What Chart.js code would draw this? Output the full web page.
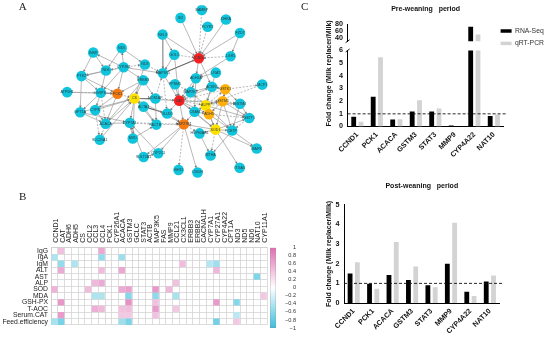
<!DOCTYPE html>
<html><head><meta charset="utf-8">
<script src="https://cdn.jsdelivr.net/npm/chart.js@4"></script>
<style>html,body{margin:0;padding:0;background:#fff;width:550px;height:338px;overflow:hidden}canvas{position:absolute}</style>
</head><body>
<script>
// ---------- Data: panel A network ----------
const nodeNames=["BAMBP","ID2","FCYR2","DHKA","FZD7","KEL3","GOL1","CCND1","LGR5","MAP3K5","LRAT","ADH1A","PPSM1","MAP2K7","ACKR1","GSTK1","MCP1","INSR","ND5","CYP2E1","ND3","ND6","PTS2","ERBB3","ATP5H1","GRPS","PCK1","CS","NOS1AP","CAT","ACTA1","GPT1A","CTPS","GLUD1","ACACA","CYP7A1","ACTB","MVD","SLC25A1","CSAM","ALPP","GSTM1","GSTM4","ADH5","GSTT1","HSP90AB1","SOD1","CETP","HSP27B1","MAPK","ITGA5","MTHA","CYP2C1","SULT2A1","GES1","UGDH"];
const nodeX=[601,536,619,675,718,481,517,592,689,482,644,583,519,567,632,673,786,269,356,362,427,308,233,422,189,292,343,395,459,532,423,229,275,495,307,381,462,390,289,579,613,665,718,623,746,594,643,694,546,769,717,628,468,423,530,588];
const nodeY=[15,40,68,45,88,93,157,168,162,216,214,232,251,276,259,267,252,150,136,197,188,207,225,238,276,278,281,296,296,303,322,340,333,344,376,373,379,423,427,338,318,305,313,346,358,407,395,398,378,455,516,477,470,482,523,531];
const nodeRank=[0,0,0,0,0,0,0,4,0,0,0,0,0,0,0,2,0,0,0,0,0,0,0,0,0,0,3,1,0,4,0,0,0,0,0,0,0,0,0,0,1,2,0,2,0,0,1,0,3,0,0,0,0,0,0,0];
const solidEdges=["KEL3>CCND1","ID2>CCND1","DHKA>CCND1","FZD7>CCND1","KEL3>GOL1","KEL3>MAP3K5","GOL1>MAP3K5","FZD7>LGR5","LGR5>ADH1A","CCND1>ADH1A","CCND1>ACKR1","LRAT>ADH1A","LRAT>ALPP","GOL1>CAT","INSR>PTS2","INSR>ND6","ND5>ND6","ND5>ND3","CYP2E1>ND5","CYP2E1>INSR","ND6>PTS2","CYP2E1>PTS2","CYP2E1>GRPS","ND6>GRPS","CYP2E1>PCK1","CYP2E1>ERBB3","ND3>CS","CYP2E1>MAP3K5","PTS2>GRPS","PTS2>GPT1A","PTS2>PCK1","ATP5H1>PCK1","GRPS>GPT1A","GRPS>CTPS","PCK1>CTPS","PCK1>ACACA","ERBB3>CS","ERBB3>PCK1","ERBB3>ACACA","GPT1A>CS","GPT1A>ACACA","GPT1A>CYP7A1","CTPS>CS","CTPS>ACACA","ACACA>CS","ACACA>CYP7A1","SLC25A1>CS","CS>CYP7A1","CS>CAT","CS>ACTA1","CS>MVD","CS>ACTB","CS>HSP27B1","MVD>CYP7A1","MVD>ACTB","SULT2A1>CYP7A1","SULT2A1>CYP2C1","CYP2C1>CYP7A1","ACTA1>ACTB","NOS1AP>ACTB","ERBB3>NOS1AP","MAP3K5>CAT","PPSM1>CAT","ADH1A>CAT","ADH1A>MAP2K7","ADH1A>CSAM","MAP2K7>CAT","CAT>HSP27B1","CAT>CSAM","CAT>ADH5","CAT>GSTM4","CAT>GLUD1","CAT>SOD1","GLUD1>HSP27B1","CSAM>ALPP","CSAM>HSP27B1","CSAM>SOD1","CSAM>ADH5","ALPP>GSTM1","ALPP>ADH5","ALPP>SOD1","ALPP>CETP","ALPP>GSTT1","GSTM1>GSTK1","GSTM1>ADH5","GSTM1>GSTT1","GSTM1>SOD1","GSTM1>CETP","GSTK1>ACKR1","GSTK1>GSTM4","ACKR1>ALPP","ACKR1>MAP2K7","ADH5>SOD1","ADH5>CETP","GSTM4>GSTT1","GSTM4>CETP","SOD1>CETP","SOD1>HSP27B1","SOD1>ITGA5","SOD1>HSP90AB1","SOD1>GSTT1","CETP>MAPK","HSP90AB1>MTHA","CETP>MTHA","SOD1>MAPK","HSP27B1>UGDH","HSP27B1>CYP2C1","HSP27B1>SULT2A1","ALPP>MAP2K7","CAT>ACKR1"];
const dashedEdges=["BAMBP>CCND1","FCYR2>CCND1","GOL1>CCND1","LGR5>CCND1","CYP2E1>ND3","CYP2E1>ND6","ND3>MAP3K5","ATP5H1>GRPS","GRPS>ACACA","PCK1>CS","ACACA>SLC25A1","CTPS>SLC25A1","CYP7A1>ACTB","CYP7A1>HSP27B1","ACTB>HSP27B1","NOS1AP>CAT","NOS1AP>MAP3K5","MAP3K5>GLUD1","PPSM1>MAP2K7","CAT>ALPP","CAT>GSTM1","ALPP>GSTK1","ALPP>GSTM4","GSTM1>GSTM4","GSTK1>MCP1","GSTK1>CAT","MCP1>ALPP","ADH5>GSTT1","GSTT1>CETP","SOD1>MTHA","HSP27B1>GES1","HSP27B1>HSP90AB1"];
const heavyEdges=["MAP3K5>CCND1","GRPS>PCK1","CS>NOS1AP","ACTA1>GLUD1"];
const networkLetter="A", heatLetter="B", barLetter="C";

// ---------- Data: panel B heatmap ----------
const heatCols=["CCND1","CAT","ADH6","ADH5","CS","CCL2","CCL3","CCL4","PCK1","CYP26A1","ACACA","GSTM3","GCLC","STAT3","ACTB","MAP3K5","FAS","MMP9","CCL21","CX3CL1","ERBB3","ERBB2","CACNA1H","CYP7A1","CYP27A1","CYP4A22","CPT1A","ND3","ND5","ND6","NAT10","CYP11A1"];
const heatRows=["IgG","IgA","IgM","ALT","AST","ALP","SOD","MDA","GSH-PX","T-AOC","Serum.CAT","Feed.efficiency"];
const heatCells=[["IgG","CAT",.42],["IgG","CCL4",.6],
["IgA","CCND1",-.42],["IgA","CCL4",-.55],["IgA","ACACA",-.5],
["IgM","CAT",-.55],["IgM","ADH5",-.42],["IgM","CX3CL1",.45],["IgM","CYP7A1",-.38],["IgM","CYP27A1",-.5],
["ALT","CAT",.58],["ALT","CCL4",.45],["ALT","ACACA",.6],["ALT","CYP27A1",.5],
["AST","NAT10",-.65],
["ALP","CCL3",.48],["ALP","CCL4",.58],["ALP","CCL21",.42],
["SOD","CCND1",.52],["SOD","CCL2",.45],["SOD","ACACA",.58],["SOD","GSTM3",.65],["SOD","MAP3K5",.72],["SOD","MMP9",.48],
["MDA","CCL3",-.42],["MDA","CCL4",-.42],["MDA","GSTM3",-.62],["MDA","MAP3K5",-.58],["MDA","CCL21",-.45],["MDA","CYP11A1",.38],
["GSH-PX","CAT",.72],["GSH-PX","GSTM3",.75],["GSH-PX","MAP3K5",.42],["GSH-PX","CYP27A1",.68],["GSH-PX","ND3",-.62],
["T-AOC","CCL3",.55],["T-AOC","CCL4",.48],["T-AOC","ACACA",.42],["T-AOC","GSTM3",.45],["T-AOC","MAP3K5",.68],["T-AOC","CCL21",.38],
["Serum.CAT","CAT",.68],["Serum.CAT","ACACA",.38],["Serum.CAT","GSTM3",.38],["Serum.CAT","MAP3K5",.42],["Serum.CAT","ND3",-.35],
["Feed.efficiency","CCND1",-.45],["Feed.efficiency","CAT",-.7],["Feed.efficiency","ACACA",-.5],["Feed.efficiency","GSTM3",-.68],["Feed.efficiency","CYP27A1",-.72],["Feed.efficiency","ND3",.38]];
const colorTicks=[1,.8,.6,.4,.2,0,-.2,-.4,-.6,-.8,-1];

// ---------- Data: panel C bars ----------
const preCategories=["CCND1","PCK1","ACACA","GSTM3","STAT3","MMP9","CYP4A22","NAT10"];
const preRna=[.76,2.34,.55,1.18,1.18,.08,72,.82];
const preQpcr=[.37,5.47,.58,2.08,1.42,0,49.5,.95];
const preLowTicks=[0,1,2,3,4,5,6];
const preHighTicks=[40,60,80];
const postCategories=["CCND1","PCK1","ACACA","GSTM3","STAT3","MMP9","CYP4A22","NAT10"];
const postRna=[1.5,.98,1.43,1.17,.91,2.0,.57,1.1];
const postQpcr=[2.08,.73,3.11,1.86,.8,4.09,.36,1.4];
const postTicks=[0,1,2,3,4,5];
const seriesNames=["RNA-Seq","qRT-PCR"];
const preTitle="Pre-weaning   period", postTitle="Post-weaning   period";
const yTitle="Fold change (Milk replacer/Milk)";
const referenceLine=1;

// ---------- Rendering ----------
const SANS="'Liberation Sans',Arial,sans-serif";
Chart.defaults.font.family=SANS;
Chart.defaults.animation=false;
Chart.defaults.responsive=false;
Chart.defaults.devicePixelRatio=1;
Chart.defaults.plugins.legend.display=false;
Chart.defaults.plugins.tooltip.enabled=false;
Chart.defaults.events=[];

function make(left,top,w,h,config){
  const c=document.createElement('canvas');
  c.width=w;c.height=h;c.style.left=left+'px';c.style.top=top+'px';
  c.style.width=w+'px';c.style.height=h+'px';
  document.body.appendChild(c);
  return new Chart(c,config);
}
const letterPlugin=(text,x,y)=>({id:'letter'+text,afterDraw(ch){const g=ch.ctx;g.save();g.font="11px 'Liberation Serif',serif";g.fillStyle='#222';g.textAlign='center';g.textBaseline='middle';g.fillText(text,x,y);g.restore();}});

// Panel A
const rankColors=['#10C4DC','#FFE100','#FFAE0A','#F57A10','#F52020'];
const idx=Object.fromEntries(nodeNames.map((n,i)=>[n,i]));
function edgePoints(list){const out=[];list.forEach(e=>{const [a,b]=e.split('>');out.push({x:nodeX[idx[a]],y:nodeY[idx[a]]},{x:nodeX[idx[b]],y:nodeY[idx[b]]},{x:NaN,y:NaN});});return out;}
const allEdges=solidEdges.concat(dashedEdges,heavyEdges);
const arrowPts=[],arrowRot=[];
allEdges.forEach(e=>{const [a,b]=e.split('>');const ax=nodeX[idx[a]],ay=nodeY[idx[a]],bx=nodeX[idx[b]],by=nodeY[idx[b]];const dx=bx-ax,dy=by-ay,l=Math.hypot(dx,dy);arrowPts.push({x:bx-dx/l*19,y:by-dy/l*19});arrowRot.push(Math.atan2(dx,-dy)*180/Math.PI);});
const edgeDs=(data,color,width,dash,order)=>({type:'scatter',data,showLine:true,spanGaps:false,borderColor:color,borderWidth:width,borderDash:dash,pointRadius:0,order});
make(0,0,320,190,{type:'scatter',
  data:{datasets:[
    {data:nodeNames.map((n,i)=>({x:nodeX[i],y:nodeY[i]})),pointRadius:5.3,pointBorderWidth:0,pointBackgroundColor:nodeRank.map(r=>rankColors[r]),order:0},
    {data:arrowPts,pointStyle:'triangle',pointRadius:1.5,pointBorderWidth:0,pointBackgroundColor:'#777',pointRotation:arrowRot,order:1},
    edgeDs(edgePoints(solidEdges),'#9a9a9a',.7,[],2),
    edgeDs(edgePoints(dashedEdges),'#9a9a9a',.7,[2,1.5],3),
    edgeDs(edgePoints(heavyEdges),'#666',1.1,[],4)
  ]},
  options:{layout:{padding:{right:45}},scales:{
    x:{type:'linear',display:false,min:0,max:825},
    y:{type:'linear',display:false,min:0,max:570,reverse:true}}},
  plugins:[letterPlugin(networkLetter,22.7,7.5),letterPlugin(barLetter,304.7,7.5),{id:'nodeText',afterDatasetsDraw(ch){const g=ch.ctx;g.save();g.font="3.6px "+SANS;g.fillStyle='#2a3a40';g.textAlign='center';g.textBaseline='middle';
    nodeNames.forEach((n,i)=>g.fillText(n,ch.scales.x.getPixelForValue(nodeX[i]),ch.scales.y.getPixelForValue(nodeY[i])));g.restore();}}]
});

// Panel B
function heatColor(v){const t=Math.min(1,Math.abs(v));const c=v>=0?[222,110,178]:[60,190,220];return `rgb(${c.map(k=>Math.round(255+(k-255)*t)).join(',')})`;}
make(0,185,276,147,{type:'scatter',
  data:{datasets:[{data:heatCells.map(c=>({x:c[1],y:c[0]})),pointStyle:'rect',pointRadius:4.5,pointBorderWidth:0,pointBackgroundColor:heatCells.map(c=>heatColor(c[2]))}]},
  options:{layout:{padding:{left:0,right:9,top:0,bottom:3.7}},scales:{
    x:{type:'category',labels:heatCols,position:'top',offset:true,afterFit(s){s.height=62.7;},
       grid:{offset:true,color:'#d4d4d4',lineWidth:.8,drawTicks:false},border:{color:'#cfcfcf',width:.8},
       ticks:{autoSkip:false,minRotation:90,maxRotation:90,padding:5,labelOffset:10,color:'#222',font:{size:7}}},
    y:{type:'category',labels:heatRows,offset:true,afterFit(s){s.width=51;},
       grid:{offset:true,color:'#d4d4d4',lineWidth:.8,drawTicks:false},border:{color:'#cfcfcf',width:.8},
       ticks:{autoSkip:false,padding:3,color:'#222',font:{size:6.8}}}
  }},
  plugins:[letterPlugin(heatLetter,22.7,11.7)]
});

// Colour bar
make(268,240,28,96,{type:'bar',
  data:{labels:['r'],datasets:[{data:[[-1,1]],barPercentage:1,categoryPercentage:1,borderWidth:.6,borderColor:'#888',borderSkipped:false,
    backgroundColor(ctx){const a=ctx.chart.chartArea;if(!a)return '#fff';const g=ctx.chart.ctx.createLinearGradient(0,a.top,0,a.bottom);g.addColorStop(0,heatColor(1));g.addColorStop(.5,'#fff');g.addColorStop(1,heatColor(-1));return g;}}]},
  options:{layout:{padding:{left:2,right:0,top:7.7,bottom:8}},scales:{
    x:{display:false},
    y:{position:'right',min:-1,max:1,afterFit(s){s.width=20;},afterBuildTicks(s){s.ticks=colorTicks.map(value=>({value}));},
       grid:{display:false,drawTicks:false},border:{display:false},
       ticks:{autoSkip:false,padding:1,color:'#333',crossAlign:'far',font:{size:5.6},callback:v=>{const r=Math.round(v*10)/10;return r<0?'\u2212'+Math.abs(r):String(r);}}}
  }}
});

// Panel C helpers
const BLACK='#000',GREY='#d3d3d3';
const barSets=(a,b)=>[
  {label:seriesNames[0],data:a,backgroundColor:BLACK,categoryPercentage:.75,barPercentage:.66},
  {label:seriesNames[1],data:b,backgroundColor:GREY,categoryPercentage:.75,barPercentage:.66}];
const tickFont={size:7.2,weight:'bold'};
const dashPlugin={id:'refLine',afterDatasetsDraw(ch){const g=ch.ctx,a=ch.chartArea,y=ch.scales.y.getPixelForValue(referenceLine);g.save();g.strokeStyle='#111';g.lineWidth=.9;g.setLineDash([3,2]);g.beginPath();g.moveTo(a.left,y);g.lineTo(a.right+3.5,y);g.stroke();g.restore();}};
const breakPlugin=(atBottom)=>({id:'axisBreak',afterDraw(ch){const g=ch.ctx,a=ch.chartArea,y=atBottom?a.bottom:a.top;g.save();g.strokeStyle='#000';g.lineWidth=.9;g.beginPath();g.moveTo(a.left-2,y+1.5);g.lineTo(a.left+2,y-1.5);g.stroke();g.restore();}});
function xAxis(labels,h){return {type:'category',labels,offset:true,afterFit(s){s.height=h;},grid:{display:false,drawTicks:true,tickLength:3,tickColor:'#000',tickWidth:.9},border:{color:'#000',width:1},
  ticks:{autoSkip:false,minRotation:45,maxRotation:45,padding:1,color:'#111',font:tickFont}};}
function yAxis(w,vals,min,max,title){return {min,max,afterFit(s){s.width=w;},afterBuildTicks(s){s.ticks=vals.map(value=>({value}));},
  grid:{display:false,drawTicks:true,tickLength:3,tickColor:'#000',tickWidth:.9},border:{color:'#000',width:1},
  ticks:{autoSkip:false,padding:1.5,color:'#111',font:tickFont},
  title:title||{display:false}};}

// Pre-weaning upper segment
make(323,0,225,47,{type:'bar',
  data:{labels:preCategories,datasets:barSets(preRna,preQpcr)},
  options:{layout:{padding:{left:0,right:44.4,top:0,bottom:4}},
    plugins:{title:{display:true,text:preTitle,fullSize:false,color:'#111',font:{size:7,weight:'bold'},padding:{top:5,bottom:10.6}}},
    scales:{x:{type:'category',display:false,offset:true},y:yAxis(24.6,preHighTicks,30,80)}},
  plugins:[breakPlugin(true)]
});

// Pre-weaning lower segment
make(323,18,225,150,{type:'bar',
  data:{labels:preCategories,datasets:barSets(preRna,preQpcr)},
  options:{layout:{padding:{left:0,right:44.4,top:32.5,bottom:0}},
    scales:{x:xAxis(preCategories,41.5),
      y:yAxis(24.6,preLowTicks,0,6,{display:true,text:yTitle,align:'start',color:'#111',font:{size:7,weight:'bold'},padding:{top:2,bottom:0}})}},
  plugins:[dashPlugin,breakPlugin(false)]
});

// Legend
make(495,21.7,120,32,{type:'bar',
  data:{labels:[],datasets:[{label:seriesNames[0],data:[],backgroundColor:BLACK,borderWidth:0},{label:seriesNames[1],data:[],backgroundColor:GREY,borderWidth:0}]},
  options:{plugins:{legend:{display:true,position:'left',align:'start',labels:{boxWidth:11,boxHeight:3.5,padding:5.6,color:'#333',font:{size:6.8}}}},
    scales:{x:{display:false},y:{display:false}}}
});

// Post-weaning
make(323,172,225,166,{type:'bar',
  data:{labels:postCategories,datasets:barSets(postRna,postQpcr)},
  options:{layout:{padding:{left:0,right:48.4,top:0,bottom:0}},
    plugins:{title:{display:true,text:postTitle,fullSize:false,color:'#111',font:{size:7,weight:'bold'},padding:{top:9.5,bottom:15}}},
    scales:{x:xAxis(postCategories,35),
      y:yAxis(21,postTicks,0,5,{display:true,text:yTitle,color:'#111',font:{size:7,weight:'bold'},padding:{top:2,bottom:0}})}},
  plugins:[dashPlugin]
});
</script>
</body></html>
